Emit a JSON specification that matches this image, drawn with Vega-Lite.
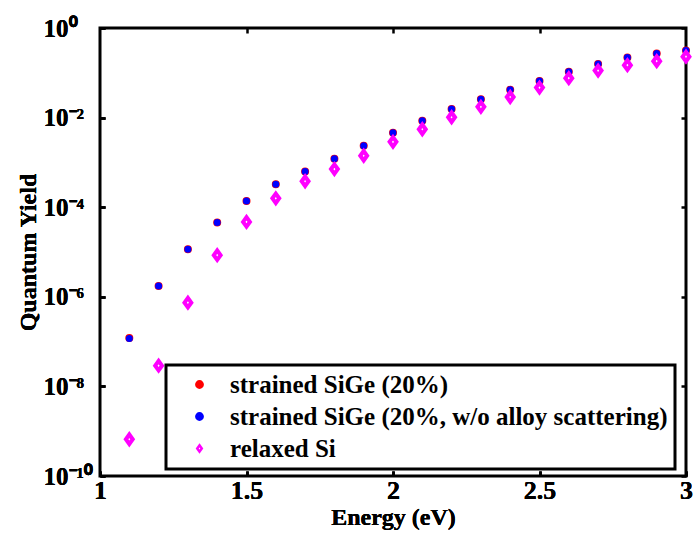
{
  "$schema": "https://vega.github.io/schema/vega-lite/v6.json",
  "autosize": {"type": "none"},
  "width": 586,
  "height": 448,
  "padding": {"left": 100, "top": 28, "right": 7, "bottom": 61},
  "background": "white",
  "config": {
    "view": {"stroke": "black", "strokeWidth": 3},
    "font": "Liberation Serif",
    "axis": {"grid": false, "domain": false, "tickColor": "black", "tickWidth": 2.5, "tickSize": -5,
      "labelFont": "Liberation Serif", "labelFontWeight": "bold", "labelColor": "black",
      "titleFont": "Liberation Serif", "titleFontWeight": "bold", "titleColor": "black"},
    "legend": {"strokeWidth": 3}
  },
  "data": {"values": [
    {"E":1.1,"Y":1.2e-7,"s":"strained SiGe (20%)"},
    {"E":1.2,"Y":1.74e-6,"s":"strained SiGe (20%)"},
    {"E":1.3,"Y":1.15e-5,"s":"strained SiGe (20%)"},
    {"E":1.4,"Y":4.57e-5,"s":"strained SiGe (20%)"},
    {"E":1.5,"Y":1.38e-4,"s":"strained SiGe (20%)"},
    {"E":1.6,"Y":3.24e-4,"s":"strained SiGe (20%)"},
    {"E":1.7,"Y":6.3e-4,"s":"strained SiGe (20%)"},
    {"E":1.8,"Y":1.2e-3,"s":"strained SiGe (20%)"},
    {"E":1.9,"Y":2.34e-3,"s":"strained SiGe (20%)"},
    {"E":2.0,"Y":4.57e-3,"s":"strained SiGe (20%)"},
    {"E":2.1,"Y":8.5e-3,"s":"strained SiGe (20%)"},
    {"E":2.2,"Y":0.0155,"s":"strained SiGe (20%)"},
    {"E":2.3,"Y":0.0257,"s":"strained SiGe (20%)"},
    {"E":2.4,"Y":0.0417,"s":"strained SiGe (20%)"},
    {"E":2.5,"Y":0.066,"s":"strained SiGe (20%)"},
    {"E":2.6,"Y":0.105,"s":"strained SiGe (20%)"},
    {"E":2.7,"Y":0.158,"s":"strained SiGe (20%)"},
    {"E":2.8,"Y":0.219,"s":"strained SiGe (20%)"},
    {"E":2.9,"Y":0.269,"s":"strained SiGe (20%)"},
    {"E":3.0,"Y":0.316,"s":"strained SiGe (20%)"},
    {"E":1.1,"Y":1.17e-7,"s":"strained SiGe (20%, w/o alloy scattering)"},
    {"E":1.2,"Y":1.74e-6,"s":"strained SiGe (20%, w/o alloy scattering)"},
    {"E":1.3,"Y":1.15e-5,"s":"strained SiGe (20%, w/o alloy scattering)"},
    {"E":1.4,"Y":4.57e-5,"s":"strained SiGe (20%, w/o alloy scattering)"},
    {"E":1.5,"Y":1.38e-4,"s":"strained SiGe (20%, w/o alloy scattering)"},
    {"E":1.6,"Y":3.24e-4,"s":"strained SiGe (20%, w/o alloy scattering)"},
    {"E":1.7,"Y":6.3e-4,"s":"strained SiGe (20%, w/o alloy scattering)"},
    {"E":1.8,"Y":1.2e-3,"s":"strained SiGe (20%, w/o alloy scattering)"},
    {"E":1.9,"Y":2.34e-3,"s":"strained SiGe (20%, w/o alloy scattering)"},
    {"E":2.0,"Y":4.57e-3,"s":"strained SiGe (20%, w/o alloy scattering)"},
    {"E":2.1,"Y":8.5e-3,"s":"strained SiGe (20%, w/o alloy scattering)"},
    {"E":2.2,"Y":0.0155,"s":"strained SiGe (20%, w/o alloy scattering)"},
    {"E":2.3,"Y":0.0257,"s":"strained SiGe (20%, w/o alloy scattering)"},
    {"E":2.4,"Y":0.0417,"s":"strained SiGe (20%, w/o alloy scattering)"},
    {"E":2.5,"Y":0.066,"s":"strained SiGe (20%, w/o alloy scattering)"},
    {"E":2.6,"Y":0.105,"s":"strained SiGe (20%, w/o alloy scattering)"},
    {"E":2.7,"Y":0.158,"s":"strained SiGe (20%, w/o alloy scattering)"},
    {"E":2.8,"Y":0.219,"s":"strained SiGe (20%, w/o alloy scattering)"},
    {"E":2.9,"Y":0.269,"s":"strained SiGe (20%, w/o alloy scattering)"},
    {"E":3.0,"Y":0.316,"s":"strained SiGe (20%, w/o alloy scattering)"},
    {"E":1.1,"Y":6.6e-10,"s":"relaxed Si"},
    {"E":1.2,"Y":2.9e-8,"s":"relaxed Si"},
    {"E":1.3,"Y":7.4e-7,"s":"relaxed Si"},
    {"E":1.4,"Y":8.5e-6,"s":"relaxed Si"},
    {"E":1.5,"Y":4.7e-5,"s":"relaxed Si"},
    {"E":1.6,"Y":1.58e-4,"s":"relaxed Si"},
    {"E":1.7,"Y":3.8e-4,"s":"relaxed Si"},
    {"E":1.8,"Y":7.1e-4,"s":"relaxed Si"},
    {"E":1.9,"Y":1.41e-3,"s":"relaxed Si"},
    {"E":2.0,"Y":2.88e-3,"s":"relaxed Si"},
    {"E":2.1,"Y":5.5e-3,"s":"relaxed Si"},
    {"E":2.2,"Y":0.0102,"s":"relaxed Si"},
    {"E":2.3,"Y":0.0174,"s":"relaxed Si"},
    {"E":2.4,"Y":0.0288,"s":"relaxed Si"},
    {"E":2.5,"Y":0.0468,"s":"relaxed Si"},
    {"E":2.6,"Y":0.0759,"s":"relaxed Si"},
    {"E":2.7,"Y":0.112,"s":"relaxed Si"},
    {"E":2.8,"Y":0.148,"s":"relaxed Si"},
    {"E":2.9,"Y":0.182,"s":"relaxed Si"},
    {"E":3.0,"Y":0.229,"s":"relaxed Si"}
  ]},
  "encoding": {
    "x": {"field": "E", "type": "quantitative",
      "scale": {"domain": [1, 3], "nice": false, "zero": false},
      "axis": {"orient": "bottom", "values": [1, 1.5, 2, 2.5, 3], "format": "~g", "title": "Energy (eV)",
        "labelFontSize": 26, "labelPadding": 6, "titleFontSize": 24, "titlePadding": 2, "labelFlush": false, "labelOverlap": false}},
    "y": {"field": "Y", "type": "quantitative",
      "scale": {"type": "log", "domain": [1e-10, 1], "nice": false},
      "axis": {"orient": "left", "values": [1e-10, 1e-8, 1e-6, 1e-4, 1e-2, 1], "title": "Quantum Yield",
        "labelExpr": "'10' + (round(log(datum.value)/LN10) == 0 ? '⁰' : round(log(datum.value)/LN10) == -2 ? '⁻²' : round(log(datum.value)/LN10) == -4 ? '⁻⁴' : round(log(datum.value)/LN10) == -6 ? '⁻⁶' : round(log(datum.value)/LN10) == -8 ? '⁻⁸' : '⁻¹⁰')",
        "labelFontSize": 25, "labelAlign": "left", "labelPadding": 62, "labelFlush": false, "labelOverlap": false,
        "titleFontSize": 24, "titlePadding": 3}},
    "fill": {"field": "s", "type": "nominal",
      "scale": {"domain": ["strained SiGe (20%)", "strained SiGe (20%, w/o alloy scattering)", "relaxed Si"],
        "range": ["#ff0000", "#0000ff", "#ffffff"]},
      "legend": {"orient": "none", "legendX": 66, "legendY": 337, "title": null,
        "labelFont": "Liberation Serif", "labelFontWeight": "bold", "labelFontSize": 25, "labelColor": "black",
        "labelLimit": 600, "strokeColor": "black", "fillColor": "white", "padding": 7,
        "rowPadding": 6, "symbolOffset": 14, "labelOffset": 18, "symbolStrokeWidth": 2.5, "symbolSize": 40}},
    "stroke": {"field": "s", "type": "nominal",
      "scale": {"domain": ["strained SiGe (20%)", "strained SiGe (20%, w/o alloy scattering)", "relaxed Si"],
        "range": ["#ff0000", "#0000ff", "#ff00ff"]}},
    "shape": {"field": "s", "type": "nominal",
      "scale": {"domain": ["strained SiGe (20%)", "strained SiGe (20%, w/o alloy scattering)", "relaxed Si"],
        "range": ["circle", "circle", "M0,-1L0.72,0L0,1L-0.72,0Z"]}}
  },
  "layer": [
    {
      "transform": [{"filter": "datum.s == 'strained SiGe (20%)'"}],
      "mark": {"type": "point", "filled": false, "opacity": 1, "strokeWidth": 2, "size": 36, "clip": false}
    },
    {
      "transform": [{"filter": "datum.s == 'strained SiGe (20%, w/o alloy scattering)'"}],
      "mark": {"type": "point", "filled": false, "opacity": 1, "strokeWidth": 2, "size": 25, "clip": false}
    },
    {
      "transform": [{"filter": "datum.s == 'relaxed Si'"}],
      "mark": {"type": "point", "filled": false, "opacity": 1, "strokeWidth": 4, "size": 90, "clip": false}
    },
    {
      "mark": {"type": "point", "opacity": 0},
      "encoding": {
        "x": {"field": "E", "type": "quantitative",
          "axis": {"orient": "top", "values": [1.5, 2, 2.5], "labels": false, "title": null}},
        "y": {"field": "Y", "type": "quantitative",
          "axis": {"orient": "right", "values": [1e-10, 1e-8, 1e-6, 1e-4, 1e-2, 1], "labels": false, "title": null}}
      }
    }
  ],
  "resolve": {"axis": {"x": "independent", "y": "independent"}}
}
